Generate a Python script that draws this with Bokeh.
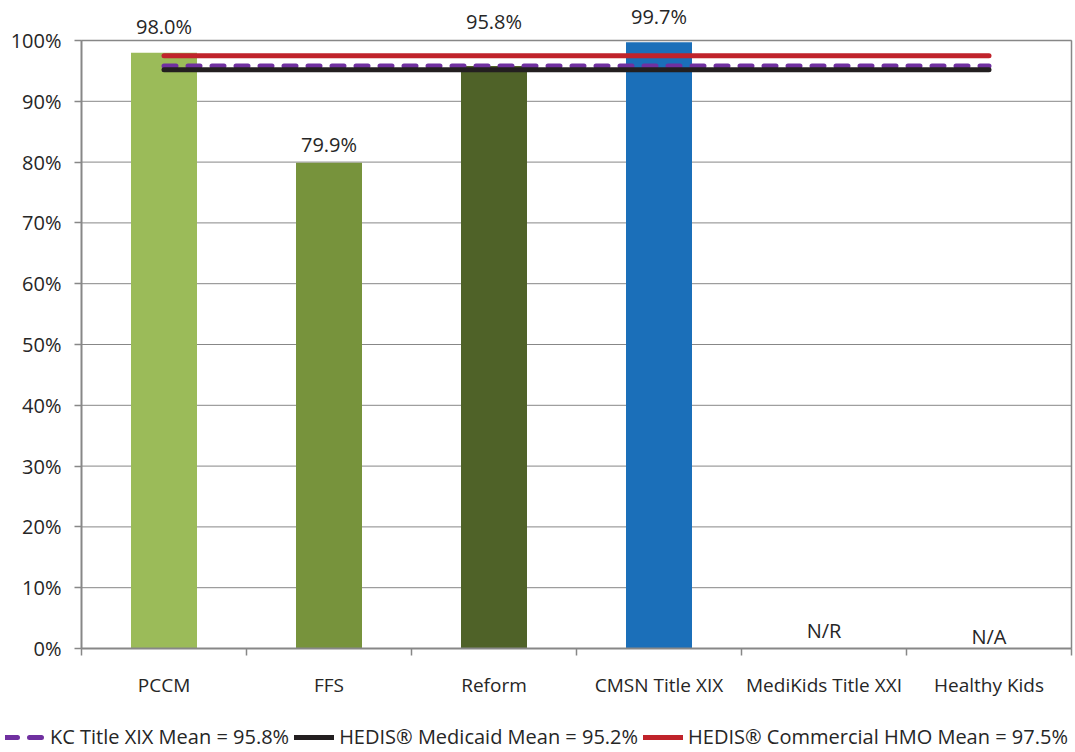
from bokeh.plotting import figure
from bokeh.models import (Range1d, FixedTicker, Legend, LegendItem, ColumnDataSource, LabelSet)
from bokeh.core.properties import value
from bokeh.embed import file_html
from bokeh.resources import INLINE

# ---- data ----
categories = ["PCCM", "FFS", "Reform", "CMSN Title XIX", "MediKids Title XXI", "Healthy Kids"]
values = [98.0, 79.9, 95.8, 99.7, None, None]
missing_labels = [None, None, None, None, "N/R", "N/A"]
bar_colors = ["#9BBB59", "#77933C", "#4F6228", "#1B6FB9", "#9BBB59", "#9BBB59"]

kc_mean = 95.8
medicaid_mean = 95.2
commercial_mean = 97.5

series_names = ["KC Title XIX Mean = 95.8%", "HEDIS® Medicaid Mean = 95.2%",
                "HEDIS® Commercial HMO Mean = 97.5%"]

y_ticks = [0, 10, 20, 30, 40, 50, 60, 70, 80, 90, 100]
y_tick_labels = {t: f"{t}%" for t in y_ticks}

# label offsets (pixels above bar top) - style
label_offsets = [26, 18, 45, 26, 18, 12]

FONT = "Open Sans"
TXT = "#262626"
GRAY = "#878787"
LINE_STYLES = [
    dict(line_color="#7030A0", line_width=5, line_dash="12 12", line_cap="round"),
    dict(line_color="#231F20", line_width=5, line_cap="round"),
    dict(line_color="#C0232B", line_width=5, line_cap="round"),
]

n = len(categories)
xc = [i + 0.5 for i in range(n)]
ymax = y_ticks[-1]

# ---- layout geometry (pixels) ----
W, H = 1073, 750
L, R, T, B = 81, 1071, 40, 648      # plot area edges inside the canvas
ux = (R - L) / n
uy = (B - T) / ymax

p = figure(width=W, height=H, output_backend="svg", toolbar_location=None,
           x_range=Range1d(-L / ux, n + (W - R) / ux),
           y_range=Range1d(-(H - B) / uy, ymax + T / uy),
           min_border_left=0, min_border_right=0, min_border_top=0, min_border_bottom=0,
           title=None)
p.outline_line_color = None
p.background_fill_color = "white"
p.border_fill_color = "white"
p.xgrid.visible = False
p.ygrid.visible = False

# gridlines and right/top border of the plot area
p.segment(x0=[0] * len(y_ticks), x1=[n] * len(y_ticks), y0=y_ticks, y1=y_ticks,
          line_color=GRAY, line_width=1)
p.segment(x0=[n], x1=[n], y0=[0], y1=[ymax], line_color=GRAY, line_width=1.5)
p.segment(x0=[0], x1=[n], y0=[ymax], y1=[ymax], line_color=GRAY, line_width=1.5)

# bars
bx = [x for x, v in zip(xc, values) if v is not None]
bt = [v for v in values if v is not None]
bc = [c for c, v in zip(bar_colors, values) if v is not None]
p.vbar(x=bx, top=bt, bottom=0, width=0.4, color=bc, line_color=None)

# reference lines
line_rs = []
for mean, st in zip([kc_mean, medicaid_mean, commercial_mean], LINE_STYLES):
    line_rs.append(p.line(x=[xc[0], xc[-1]], y=[mean, mean], **st))

# data labels
lab_src = ColumnDataSource(dict(
    x=xc,
    y=[v if v is not None else 0 for v in values],
    text=[f"{v:.1f}%" if v is not None else m for v, m in zip(values, missing_labels)],
    off=label_offsets,
))
labels = LabelSet(x="x", y="y", text="text", y_offset="off", source=lab_src,
                  text_align="center", text_baseline="middle",
                  text_font_size=value("20px"), text_color=value(TXT), text_font=value(FONT))
p.add_layout(labels)

# axes, placed at the data origin
p.xaxis.fixed_location = 0
p.xaxis.bounds = (0, n)
p.xaxis.ticker = FixedTicker(ticks=xc, minor_ticks=list(range(n + 1)))
p.xaxis.major_label_overrides = {x: c for x, c in zip(xc, categories)}
p.xaxis.major_tick_out = 0
p.xaxis.major_tick_in = 0
p.xaxis.minor_tick_out = 7
p.xaxis.minor_tick_in = 0
p.xaxis.minor_tick_line_color = GRAY
p.xaxis.minor_tick_line_width = 1.5
p.xaxis.axis_line_color = GRAY
p.xaxis.axis_line_width = 2
p.xaxis.major_label_standoff = 16
p.xaxis.major_label_text_font = FONT
p.xaxis.major_label_text_font_size = "19px"
p.xaxis.major_label_text_color = TXT

p.yaxis.fixed_location = 0
p.yaxis.bounds = (0, ymax)
p.yaxis.ticker = FixedTicker(ticks=y_ticks)
p.yaxis.major_label_overrides = y_tick_labels
p.yaxis.major_tick_out = 7
p.yaxis.major_tick_in = 0
p.yaxis.minor_tick_out = 0
p.yaxis.minor_tick_in = 0
p.yaxis.major_tick_line_color = GRAY
p.yaxis.major_tick_line_width = 1.5
p.yaxis.axis_line_color = GRAY
p.yaxis.axis_line_width = 2
p.yaxis.major_label_standoff = 13
p.yaxis.major_label_text_font = FONT
p.yaxis.major_label_text_font_size = "20px"
p.yaxis.major_label_text_color = TXT

legend = Legend(items=[LegendItem(label=nm, renderers=[r]) for nm, r in zip(series_names, line_rs)],
                orientation="horizontal", location=(5, 0))
legend.glyph_width = 40
legend.glyph_height = 20
legend.label_standoff = 5
legend.spacing = 5
legend.padding = 0
legend.margin = 0
legend.border_line_color = None
legend.background_fill_alpha = 0
legend.label_text_font = FONT
legend.label_text_font_size = "20px"
legend.label_text_color = TXT
p.add_layout(legend, "center")

open("out.html", "w").write(file_html(p, INLINE))
